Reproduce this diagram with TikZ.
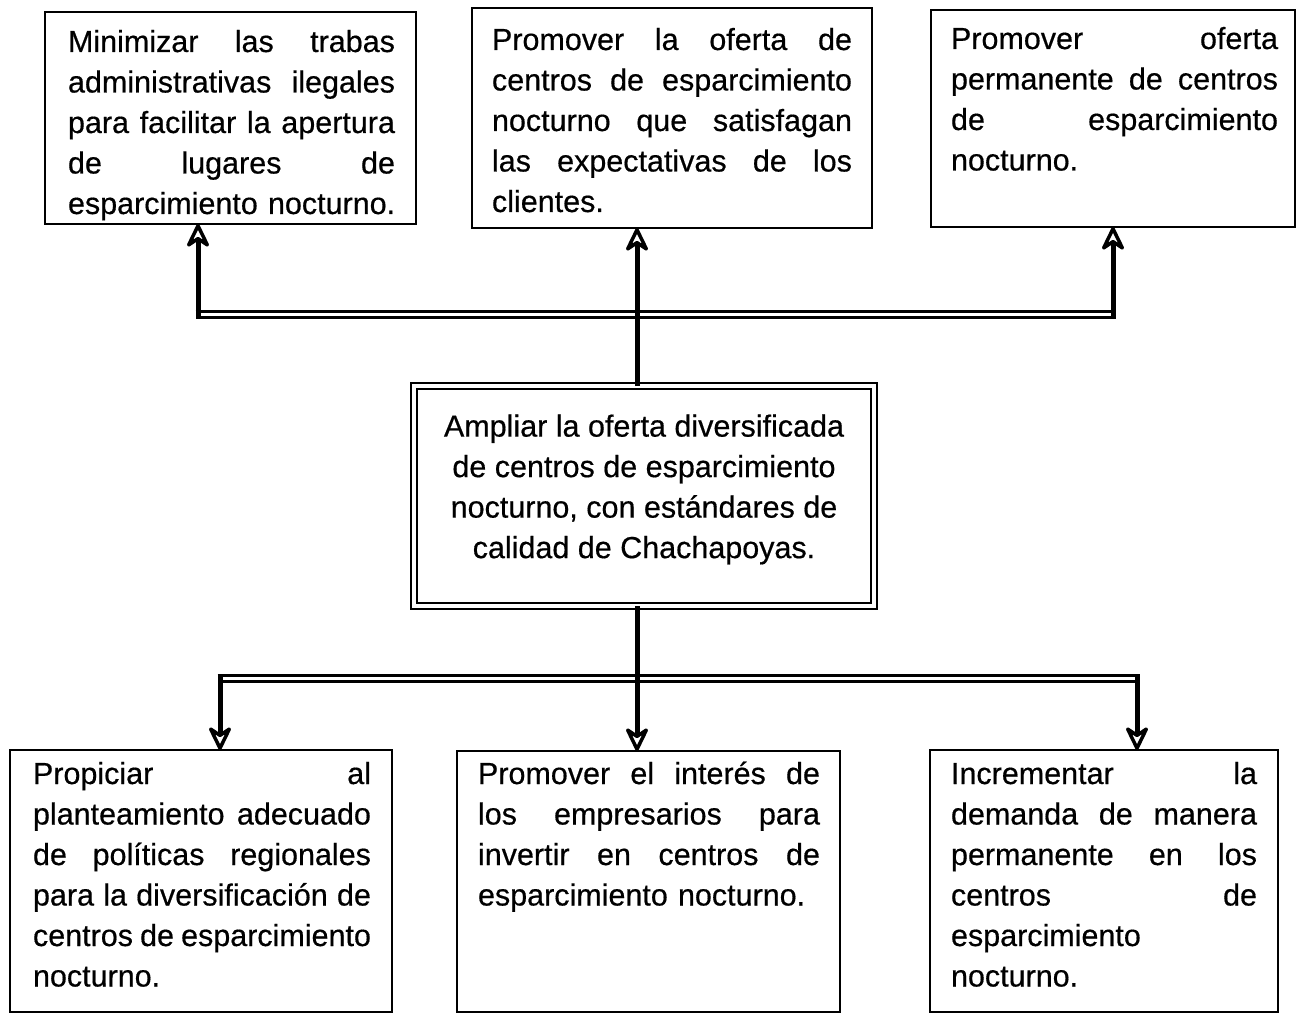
\documentclass[tikz,border=0pt]{standalone}
\usepackage{fontspec}
\setmainfont{Liberation Sans}[FakeBold=0.5]
\usetikzlibrary{arrows.meta}
\begin{document}
\begin{tikzpicture}[x=1pt,y=-1pt,
  box/.style={draw, line width=2.2pt, rectangle, inner sep=0pt, outer sep=0pt},
  dblbox/.style={draw, line width=2pt, double=white, double distance=4pt, rectangle, inner sep=0pt, outer sep=0pt},
  txt/.style={inner sep=0pt, outer sep=0pt, anchor=base west, align=left,
    font=\fontsize{30.5}{40.5}\selectfont},
  ctxt/.style={inner sep=0pt, outer sep=0pt, anchor=north, align=center,
    font=\fontsize{30.5}{40.5}\selectfont},
  shaft/.style={line width=5pt},
  arr/.style={line width=5pt, -{Stealth[open, fill=white, length=28pt, width=27pt, inset=9pt, line width=3.5pt, round]}},
  dbl/.style={line width=3pt, double=white, double distance=3pt}]
\useasboundingbox (0,0) rectangle (1301,1016);
% boxes
\node[box, minimum width=371, minimum height=212] (tl) at (230.5,118) {};
\node[box, minimum width=400, minimum height=220] (tm) at (672,118) {};
\node[box, minimum width=364, minimum height=217] (tr) at (1113,118.5) {};
\node[dblbox, minimum width=460, minimum height=220] (c) at (644,496) {};
\node[box, minimum width=382, minimum height=262] (bl) at (201,881) {};
\node[box, minimum width=383, minimum height=261] (bm) at (648.5,881.5) {};
\node[box, minimum width=348, minimum height=262] (br) at (1104,881) {};
% texts
\node[txt, text width=327] (tlt) at (68,52) {Minimizar\hfill las\hfill trabas\\ administrativas\hfill ilegales\\ para\hfill facilitar\hfill la\hfill apertura\\ de\hfill lugares\hfill de\\ \mbox{esparcimiento nocturno.}};
\node[txt, text width=360] (tmt) at (492,50) {Promover\hfill la\hfill oferta\hfill de\\ centros\hfill de\hfill esparcimiento\\ nocturno\hfill que\hfill satisfagan\\ las\hfill expectativas\hfill de\hfill los\\ clientes.};
\node[txt, text width=327] (trt) at (951,49) {Promover\hfill oferta\\ permanente\hfill de\hfill centros\\ de\hfill esparcimiento\\ nocturno.};
\node[ctxt] (ct) at (644,414.5) {Ampliar la oferta diversificada\\ de centros de esparcimiento\\ nocturno, con estándares de\\ calidad de Chachapoyas.};
\node[txt, text width=338] (blt) at (33,784) {Propiciar\hfill al\\ planteamiento\hfill adecuado\\ de\hfill políticas\hfill regionales\\ para\hfill la\hfill diversificación\hfill de\\ centros\hfill de\hfill esparcimiento\\ nocturno.};
\node[txt, text width=342] (bmt) at (478,784) {Promover\hfill el\hfill interés\hfill de\\ los\hfill empresarios\hfill para\\ invertir\hfill en\hfill centros\hfill de\\ \mbox{esparcimiento nocturno.}};
\node[txt, text width=306] (brt) at (951,784) {Incrementar\hfill la\\ demanda\hfill de\hfill manera\\ permanente\hfill en\hfill los\\ centros\hfill de\\ esparcimiento\\ nocturno.};
% top connectors
\coordinate (ta) at (198,314.5);
\coordinate (tb) at (637,314.5);
\coordinate (tc) at (1113,314.5);
\draw[dbl] ([xshift=-2.5pt]ta) -- ([xshift=2.5pt]tc);
\draw[shaft] (tb |- c.north) -- (tb);
\draw[arr] ([yshift=-4.5pt]ta) -- (ta |- tl.south);
\draw[arr] (tb) -- (tb |- tm.south);
\draw[arr] ([yshift=-4.5pt]tc) -- (tc |- tr.south);
% bottom connectors
\coordinate (ba) at (220,678.5);
\coordinate (bb) at (637,678.5);
\coordinate (bc) at (1137,678.5);
\draw[dbl] ([xshift=-2.5pt]ba) -- ([xshift=2.5pt]bc);
\draw[shaft] (bb |- c.south) -- (bb);
\draw[arr] ([yshift=4.5pt]ba) -- (ba |- bl.north);
\draw[arr] (bb) -- (bb |- bm.north);
\draw[arr] ([yshift=4.5pt]bc) -- (bc |- br.north);
\end{tikzpicture}
\end{document}
